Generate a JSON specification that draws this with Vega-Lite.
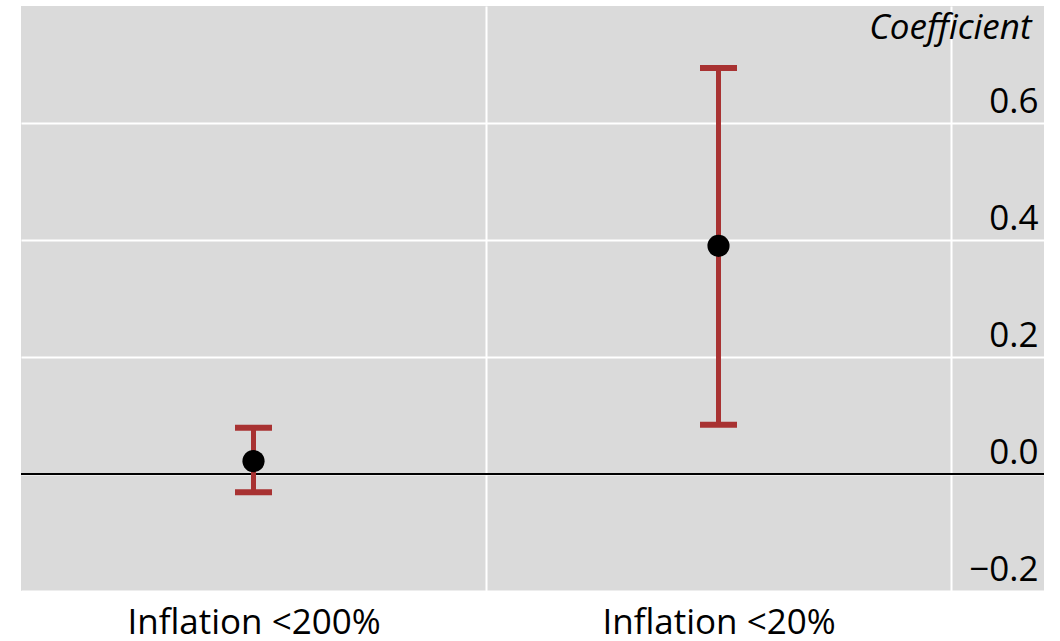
{
  "$schema": "https://vega.github.io/schema/vega-lite/v6.json",
  "width": 1023,
  "height": 585,
  "padding": {"left": 20, "top": 6, "right": 0, "bottom": 0},
  "background": "white",
  "config": {
    "view": {"fill": "#dadada", "stroke": null},
    "font": "Open Sans"
  },
  "data": {
    "values": [
      {"label": "Inflation <200%", "pos": 0.5, "est": 0.022, "lo": -0.031, "hi": 0.079},
      {"label": "Inflation <20%", "pos": 1.5, "est": 0.39, "lo": 0.084, "hi": 0.694}
    ]
  },
  "encoding": {
    "x": {
      "field": "pos", "type": "quantitative",
      "scale": {"domain": [0, 2.2], "nice": false, "zero": false},
      "axis": {
        "title": null,
        "values": [0.5, 1, 1.5, 2],
        "labelExpr": "datum.value == 0.5 ? 'Inflation <200%' : datum.value == 1.5 ? 'Inflation <20%' : ''",
        "labelFontSize": 35, "labelColor": "#000", "labelPadding": 42, "labelBaseline": "alphabetic",
        "labelFont": "Open Sans", "labelLimit": 0,
        "ticks": false, "domain": false,
        "grid": true, "gridColor": "#ffffff", "gridWidth": 2,
        "gridOpacity": {"condition": {"test": "datum.value == 1 || datum.value == 2", "value": 1}, "value": 0}
      }
    }
  },
  "layer": [
    {
      "mark": {"type": "rule", "color": "#000000", "strokeWidth": 2},
      "data": {"values": [{"z": 0}]},
      "encoding": {
        "x": null,
        "y": {"field": "z", "type": "quantitative"}
      }
    },
    {
      "mark": {"type": "rule", "color": "#a83232", "strokeWidth": 5},
      "encoding": {
        "y": {
          "field": "lo", "type": "quantitative",
          "scale": {"domain": [-0.2, 0.8], "nice": false, "zero": false},
          "axis": {
            "orient": "right",
            "title": "Coefficient",
            "titleAngle": 0, "titleAlign": "right", "titleBaseline": "alphabetic",
            "titleX": -13, "titleY": 32,
            "titleFontSize": 35, "titleFontStyle": "italic", "titleFontWeight": "normal", "titleColor": "#000",
            "titleFont": "Open Sans", "titleLimit": 0,
            "values": [-0.2, 0, 0.2, 0.4, 0.6],
            "format": ".1f",
            "labelExpr": "replace(datum.label, '-', '\u2013')",
            "labelAlign": "right", "labelBaseline": "alphabetic", "labelOffset": -11,
            "labelPadding": -6,
            "labelFontSize": 35, "labelColor": "#000", "labelFont": "Open Sans",
            "ticks": false, "domain": false,
            "grid": true, "gridColor": "#ffffff", "gridWidth": 2
          }
        },
        "y2": {"field": "hi"}
      }
    },
    {
      "mark": {"type": "tick", "color": "#a83232", "opacity": 1, "orient": "horizontal", "size": 37, "thickness": 6},
      "encoding": {"y": {"field": "lo", "type": "quantitative"}}
    },
    {
      "mark": {"type": "tick", "color": "#a83232", "opacity": 1, "orient": "horizontal", "size": 37, "thickness": 6},
      "encoding": {"y": {"field": "hi", "type": "quantitative"}}
    },
    {
      "mark": {"type": "circle", "color": "#000000", "opacity": 1, "size": 490},
      "encoding": {"y": {"field": "est", "type": "quantitative"}}
    }
  ]
}
